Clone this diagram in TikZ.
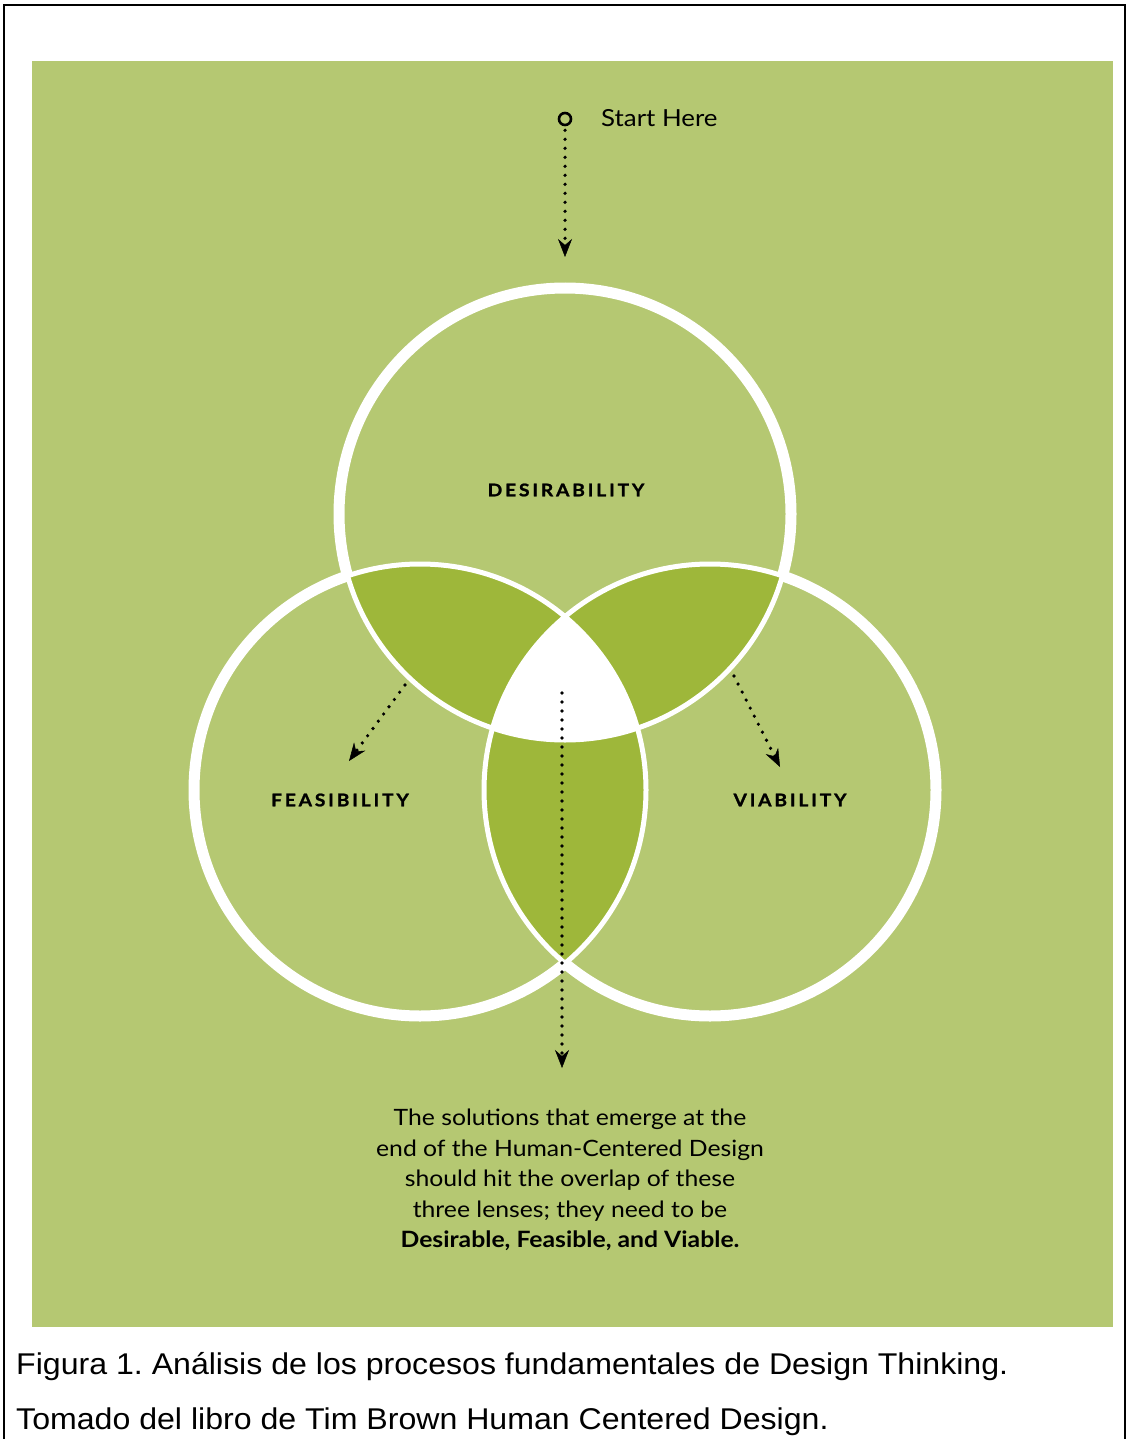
\documentclass[tikz,border=0pt]{standalone}
\usepackage{fontspec}
\setmainfont{Liberation Sans}
\newfontfamily\capfont[FakeStretch=1.07]{Liberation Sans}
\newfontfamily\gfont[FakeStretch=1.1]{Lato}
\newfontfamily\glab[LetterSpace=16,FakeStretch=1.1,BoldFeatures={FakeBold=1.2}]{Lato}
\usetikzlibrary{arrows.meta}
\definecolor{bgreen}{RGB}{181,200,114}
\definecolor{dgreen}{RGB}{158,183,58}
\def\cD{(565,514) circle[radius=226pt]}
\def\cF{(420,790) circle[radius=226pt]}
\def\cV{(710,790) circle[radius=226pt]}
\def\bigbox{(0,0) rectangle (1128,1439)}
\tikzset{
  dotarrow/.style={black, line width=3.6pt, line cap=round, dash pattern=on 0pt off 9pt,
    -{Stealth[length=18pt,width=14pt,inset=6pt,line width=0.5pt]}},
  lab/.style={font=\glab\bfseries\fontsize{17.5}{20}\selectfont, text=black, inner sep=0pt},
  thick ring/.style={white, line width=11pt},
  thin ring/.style={white, line width=5pt}
}
\begin{document}
\frenchspacing
\begin{tikzpicture}[x=1pt,y=-1pt]
\useasboundingbox \bigbox;
\fill[white] \bigbox;
\fill[bgreen] (32,61) rectangle (1113,1327);
% frame
\draw[line width=2pt] (4,1439) -- (4,5) -- (1125,5) -- (1125,1439);
% lenses
\begin{scope}\clip \cD; \fill[dgreen] \cF; \end{scope}
\begin{scope}\clip \cD; \fill[dgreen] \cV; \end{scope}
\begin{scope}\clip \cF; \fill[dgreen] \cV; \end{scope}
\begin{scope}\clip \cD; \clip \cF; \fill[white] \cV; \end{scope}
% thin inner arcs
\draw[thin ring] \cD;
\draw[thin ring] \cF;
\draw[thin ring] \cV;
% thick outer arcs
\begin{scope}[even odd rule]
  \clip \bigbox \cF; \clip \bigbox \cV;
  \draw[thick ring] \cD;
\end{scope}
\begin{scope}[even odd rule]
  \clip \bigbox \cD; \clip \bigbox \cV;
  \draw[thick ring] \cF;
\end{scope}
\begin{scope}[even odd rule]
  \clip \bigbox \cD; \clip \bigbox \cF;
  \draw[thick ring] \cV;
\end{scope}
% labels
\node[lab] (des) at (566,490) {DESIRABILITY};
\node[lab] (fea) at (340,800) {FEASIBILITY};
\node[lab] (via) at (790,800) {VIABILITY};
% start
\node[circle, draw=black, line width=2.6pt, minimum size=12pt, inner sep=0pt] (start) at (565,119) {};
\node[anchor=base west, font=\gfont\fontsize{23.5}{26}\selectfont, inner sep=0pt] (sh) at (601,127) {Start Here};
\coordinate (starttip) at (565,257);
\draw[dotarrow, shorten <=4pt] (start.south) -- (starttip);
% center arrow
\coordinate (c1) at (562,693);
\coordinate (c2) at (562,1068);
\draw[dotarrow] (c1) -- (c2);
% left arrow
\coordinate (l1) at (405,685);
\coordinate (l2) at (349,761);
\draw[dotarrow] (l1) -- (l2);
% right arrow
\coordinate (r1) at (734,676);
\coordinate (r2) at (780,767);
\draw[dotarrow] (r1) -- (r2);
% paragraph
\node[align=center, font=\gfont\fontsize{22.5}{30.5}\selectfont, inner sep=0pt] (txt) at (570,1180)
  {The solutions that emerge at the\\
   end of the Human-Centered Design\\
   should hit the overlap of these\\
   three lenses; they need to be\\
   \textbf{Desirable, Feasible, and Viable.}};
% caption
\node[anchor=base west, font=\capfont\fontsize{30}{34}\selectfont, inner sep=0pt] (cap1) at (16,1374)
  {Figura 1. Análisis de los procesos fundamentales de Design Thinking.};
\node[anchor=base west, font=\capfont\fontsize{30}{34}\selectfont, inner sep=0pt] (cap2) at (16,1429)
  {Tomado del libro de Tim Brown Human Centered Design.};
\end{tikzpicture}
\end{document}
